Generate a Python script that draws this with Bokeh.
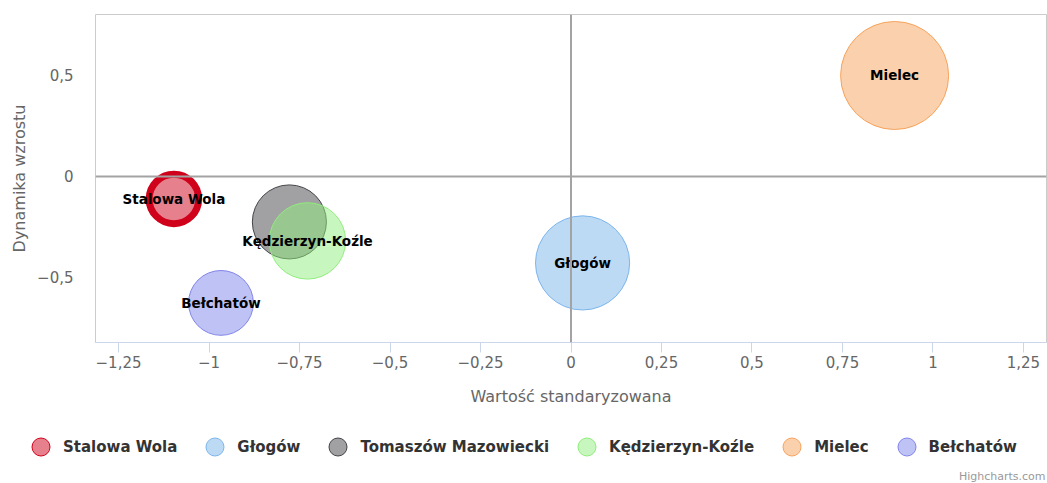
import math
from bokeh.plotting import figure
from bokeh.layouts import column
from bokeh.models import (Range1d, Span, Legend, LegendItem, ColumnDataSource,
                          FixedTicker, Label)
from bokeh.core.properties import value
from bokeh.embed import file_html
from bokeh.resources import INLINE

# ---------------- data ----------------
cities = ["Stalowa Wola", "Głogów", "Tomaszów Mazowiecki", "Kędzierzyn-Koźle", "Mielec", "Bełchatów"]
x_vals = [-1.097, 0.032, -0.778, -0.728, 0.894, -0.967]   # Wartość standaryzowana
y_vals = [-0.111, -0.428, -0.225, -0.319, 0.500, -0.626]  # Dynamika wzrostu
z_vals = [21, 76, 47, 50, 100, 36]                         # bubble size value
show_label = [True, True, False, True, True, True]

x_ticks = [-1.25, -1.0, -0.75, -0.5, -0.25, 0.0, 0.25, 0.5, 0.75, 1.0, 1.25]
x_tick_labels = ["−1,25", "−1", "−0,75", "−0,5", "−0,25", "0", "0,25", "0,5", "0,75", "1", "1,25"]
y_ticks = [-0.5, 0.0, 0.5]
y_tick_labels = ["−0,5", "0", "0,5"]

# ---------------- style ----------------
colors = ["#d0021b", "#7cb5ec", "#434348", "#90ed7d", "#f7a35c", "#8085e9"]
line_widths = [7, 1, 1, 1, 1, 1]
MAX_R = 54  # px radius of the largest bubble
FONT = "DejaVu Sans"

z_max = max(z_vals)
radii = [MAX_R * math.sqrt(z / z_max) for z in z_vals]

p = figure(width=1047, height=409, output_backend="svg", toolbar_location=None,
           x_range=Range1d(-1.3136, 1.3136), y_range=Range1d(-0.822, 0.802),
           min_border_left=95, min_border_top=14, min_border_right=1, min_border_bottom=67)
p.grid.visible = False
p.outline_line_color = "#cccccc"
p.outline_line_width = 1
p.background_fill_color = "white"
p.border_fill_color = "white"

# zero plot lines
p.add_layout(Span(location=0, dimension="height", line_color="#a3a3a3", line_width=2))
p.add_layout(Span(location=0, dimension="width", line_color="#a3a3a3", line_width=2))

for i, c in enumerate(cities):
    src = ColumnDataSource(dict(x=[x_vals[i]], y=[y_vals[i]], r=[radii[i]]))
    p.circle(x="x", y="y", radius="r", radius_units="screen", source=src,
             fill_color=colors[i], fill_alpha=0.5, line_color=colors[i],
             line_width=line_widths[i])

lab = ColumnDataSource(dict(
    x=[x for x, s in zip(x_vals, show_label) if s],
    y=[y for y, s in zip(y_vals, show_label) if s],
    t=[c for c, s in zip(cities, show_label) if s]))
p.text(x="x", y="y", text="t", source=lab, text_align="center", text_baseline="middle",
       text_font=value(FONT), text_font_size="13.5px", text_font_style="bold",
       text_color="#000000")

# axes
xa = p.xaxis[0]
xa.ticker = FixedTicker(ticks=x_ticks)
xa.major_label_overrides = {t: l for t, l in zip(x_ticks, x_tick_labels)}
xa.axis_line_color = "#ccd6eb"
xa.major_tick_line_color = "#ccd6eb"
xa.major_tick_in = 0
xa.major_tick_out = 10
xa.minor_tick_line_color = None
xa.major_label_standoff = 3
xa.major_label_text_font = FONT
xa.major_label_text_font_size = "15px"
xa.major_label_text_color = "#666666"
xa.axis_label = "Wartość standaryzowana"
xa.axis_label_text_font = FONT
xa.axis_label_text_font_size = "16px"
xa.axis_label_text_font_style = "normal"
xa.axis_label_text_color = "#666666"
xa.axis_label_standoff = 16

ya = p.yaxis[0]
ya.ticker = FixedTicker(ticks=y_ticks)
ya.major_label_overrides = {t: l for t, l in zip(y_ticks, y_tick_labels)}
ya.axis_line_color = None
ya.major_tick_line_color = None
ya.major_tick_in = 0
ya.major_tick_out = 0
ya.minor_tick_line_color = None
ya.major_label_standoff = 22
ya.major_label_text_font = FONT
ya.major_label_text_font_size = "15px"
ya.major_label_text_color = "#666666"
ya.axis_label = "Dynamika wzrostu"
ya.axis_label_text_font = FONT
ya.axis_label_text_font_size = "16px"
ya.axis_label_text_font_style = "normal"
ya.axis_label_text_color = "#666666"
ya.axis_label_standoff = 5

# ---------------- legend strip ----------------
lf = figure(width=1047, height=74, output_backend="svg", toolbar_location=None,
            x_range=Range1d(0, 1), y_range=Range1d(0, 1),
            x_axis_type=None, y_axis_type=None,
            min_border_left=0, min_border_right=0, min_border_top=0, min_border_bottom=0)
lf.grid.visible = False
lf.outline_line_color = None
lf.background_fill_color = "white"
lf.border_fill_color = "white"

# keep the strip's frame full-width (do not align it with the chart's frame)
for fig in (p, lf):
    if "frame_align" in fig.properties():
        fig.frame_align = False

legend_items = []
for i, c in enumerate(cities):
    dummy = lf.scatter(x=[float("nan")], y=[float("nan")], marker="circle", size=10,
                       fill_color=colors[i], fill_alpha=0.5, line_color=colors[i], line_width=1)
    legend_items.append(LegendItem(label=c, renderers=[dummy]))

legend = Legend(items=legend_items, orientation="horizontal", location=(18, 14),
                glyph_width=45, glyph_height=45, label_standoff=0, spacing=15,
                padding=0, margin=0, border_line_color=None, background_fill_alpha=0,
                label_text_font=FONT, label_text_font_size="15px",
                label_text_font_style="bold", label_text_color="#333333",
                click_policy="none")
lf.add_layout(legend, "center")

lf.add_layout(Label(x=1, y=0, text="Highcharts.com", x_offset=-2, y_offset=1,
                    text_align="right", text_baseline="bottom", text_font=FONT,
                    text_font_size="11px", text_color="#999999"))

open("out.html", "w").write(file_html(column(p, lf, spacing=0), INLINE))
